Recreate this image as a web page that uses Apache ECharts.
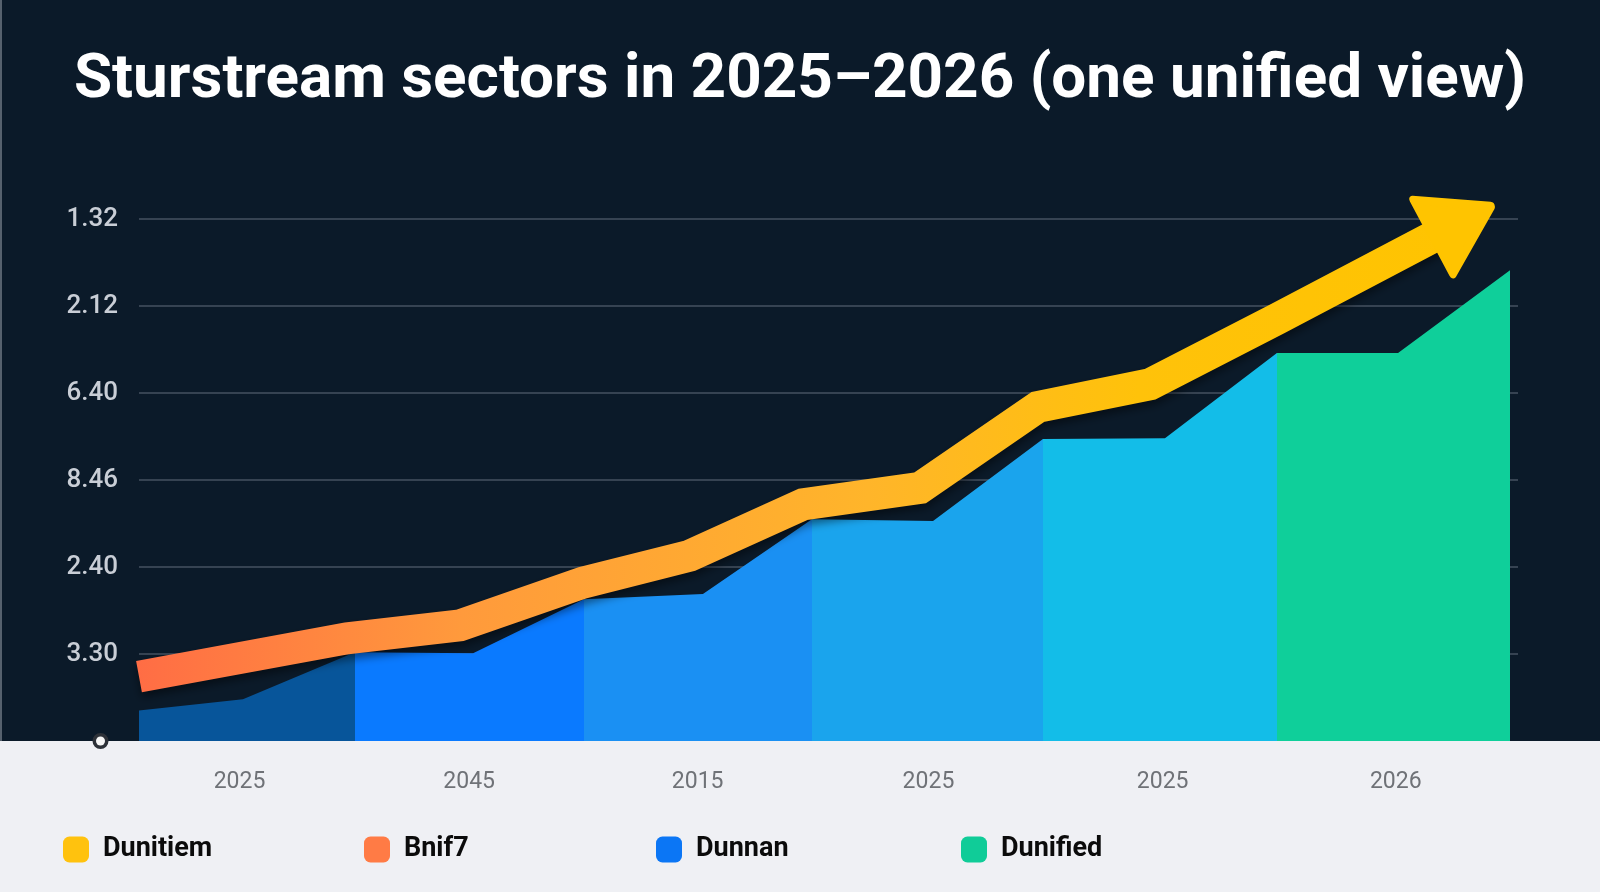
<!DOCTYPE html>
<html>
<head>
<meta charset="utf-8">
<title>Sturstream sectors</title>
<script src="https://cdn.jsdelivr.net/npm/echarts@6/dist/echarts.min.js"></script>
<style>
  html, body { margin: 0; padding: 0; background: #0b1a29; }
  #chart { width: 1600px; height: 892px; }
</style>
</head>
<body>
<div id="chart"></div>
<script>
// x in column units (0..6), y in grid steps (0..7)
const areaX = [0, 0.455, 0.945, 1.462, 1.947, 2.468, 2.945, 3.475, 3.956, 4.49, 4.98, 5.51, 6]
const areaY = [0.35, 0.48, 1.02, 1.01, 1.63, 1.69, 2.55, 2.53, 3.47, 3.48, 4.46, 4.46, 5.41]
const sectorEdges = [0.945, 1.947, 2.945, 3.956, 4.98]
const sectorColors = ['#07559a', '#0a7aff', '#1a90f3', '#1aa4ed', '#13bde8', '#0fcf9a']

// the big trend arrow
const trendX = [0, 0.91, 1.405, 1.943, 2.411, 2.906, 3.418, 3.934, 4.425, 4.98, 5.79]
const trendY = [0.74, 1.18, 1.33, 1.82, 2.13, 2.72, 2.91, 3.84, 4.10, 4.85, 5.97]

const xLabels = ['2025', '2045', '2015', '2025', '2025', '2026']
const xLabelPos = [0.44, 1.445, 2.445, 3.455, 4.48, 5.5]
const yLabels = ['3.30', '2.40', '8.46', '6.40', '2.12', '1.32']

const legendNames = ['Dunitiem', 'Bnif7', 'Dunnan', 'Dunified']
const legendColors = ['#ffc20e', '#ff7b45', '#0b76f5', '#10cc98']

const chart = echarts.init(document.getElementById('chart'))

// hard colour steps for the area, one per sector
const pieces = sectorColors.map((c, i) => {
  const p = { color: c }
  if (i > 0) p.gte = sectorEdges[i - 1]
  if (i < sectorEdges.length) p.lt = sectorEdges[i]
  return p
})

const trendData = trendX.map((x, i) => [x, trendY[i]])
const last = trendData.length - 1
trendData[last] = {
  value: trendData[last],
  symbol: 'triangle',
  symbolSize: [84, 66],
  symbolRotate: -62,
  itemStyle: { color: '#ffc400', borderColor: '#ffc400', borderWidth: 8, borderJoin: 'round' }
}

function xLabelFor(v) {
  const i = xLabelPos.findIndex(p => Math.abs(p - v) < 1e-6)
  return i < 0 ? '' : xLabels[i]
}

const legendLeft = [58, 359, 651, 956]

const option = {
  animation: false,
  backgroundColor: '#0b1a29',
  title: {
    text: 'Sturstream sectors in 2025\u20132026 (one unified view)',
    left: 'center',
    top: 45,
    textStyle: { color: '#ffffff', fontSize: 62, fontWeight: 'bold', fontFamily: 'Roboto' }
  },
  graphic: [
    { type: 'rect', left: 0, top: 741, z: -1, shape: { width: 1600, height: 151 }, style: { fill: '#eff0f4' } },
    { type: 'rect', left: 0, top: 0, z: -1, shape: { width: 2, height: 741 }, style: { fill: '#56616d' } }
  ],
  grid: { left: 139, right: 82, top: 132, bottom: 151 },
  xAxis: {
    type: 'value',
    min: 0,
    max: 6.035,
    axisLine: { show: false },
    axisTick: { show: false, customValues: xLabelPos },
    splitLine: { show: false },
    axisLabel: {
      show: true,
      customValues: xLabelPos,
      formatter: xLabelFor,
      margin: 30,
      color: '#6f7277',
      fontSize: 23,
      fontFamily: 'Roboto'
    }
  },
  yAxis: {
    type: 'value',
    min: 0,
    max: 7,
    interval: 1,
    axisLine: { show: false },
    axisTick: { show: false },
    splitLine: {
      showMinLine: false,
      showMaxLine: false,
      lineStyle: { color: '#465260', width: 1.5 }
    },
    axisLabel: {
      margin: 21,
      color: '#c9ced6',
      fontSize: 26,
      fontWeight: 500,
      fontFamily: 'Roboto',
      formatter: v => v === 0 ? '{o|}{s|}' : (yLabels[v - 1] || ''),
      rich: {
        o: { width: 9, height: 9, borderRadius: 9, borderWidth: 3.5, borderColor: '#2d3138', backgroundColor: '#f6f6f6' },
        s: { width: 13 }
      }
    }
  },
  visualMap: {
    show: false,
    type: 'piecewise',
    seriesIndex: 0,
    dimension: 0,
    pieces: pieces
  },
  legend: legendNames.map((n, i) => ({
    data: [{ name: n, itemStyle: { color: legendColors[i], borderWidth: 0 } }],
    left: legendLeft[i],
    top: 831,
    icon: 'roundRect',
    itemWidth: 26,
    itemHeight: 26,
    selectedMode: false,
    formatter: name => '{t|' + name + '}',
    textStyle: {
      rich: { t: { fontSize: 27, fontWeight: 'bold', fontFamily: 'Roboto', color: '#0b0b0b', padding: [0, 0, 0, 9] } }
    }
  })),
  series: [
    {
      name: 'Dunnan',
      type: 'line',
      data: areaX.map((x, i) => [x, areaY[i]]),
      symbol: 'none',
      lineStyle: { width: 0 },
      areaStyle: { opacity: 1 },
      z: 2
    },
    {
      name: 'Dunitiem',
      type: 'line',
      data: trendData,
      symbol: 'none',
      showSymbol: true,
      lineStyle: {
        width: 32,
        cap: 'butt',
        join: 'miter',
        color: {
          type: 'linear', x: 0, y: 0, x2: 1, y2: 0,
          colorStops: [
            { offset: 0, color: '#ff6b45' },
            { offset: 0.25, color: '#ff9a3c' },
            { offset: 0.55, color: '#ffb52a' },
            { offset: 0.75, color: '#ffc20a' },
            { offset: 1, color: '#ffc400' }
          ]
        },
        shadowColor: 'rgba(0,0,0,0.45)',
        shadowBlur: 8,
        shadowOffsetY: 5
      },
      z: 3
    },
    { name: 'Bnif7', type: 'line', data: [], itemStyle: { color: legendColors[1] } },
    { name: 'Dunified', type: 'line', data: [], itemStyle: { color: legendColors[3] } }
  ]
}

chart.setOption(option)
</script>
</body>
</html>
